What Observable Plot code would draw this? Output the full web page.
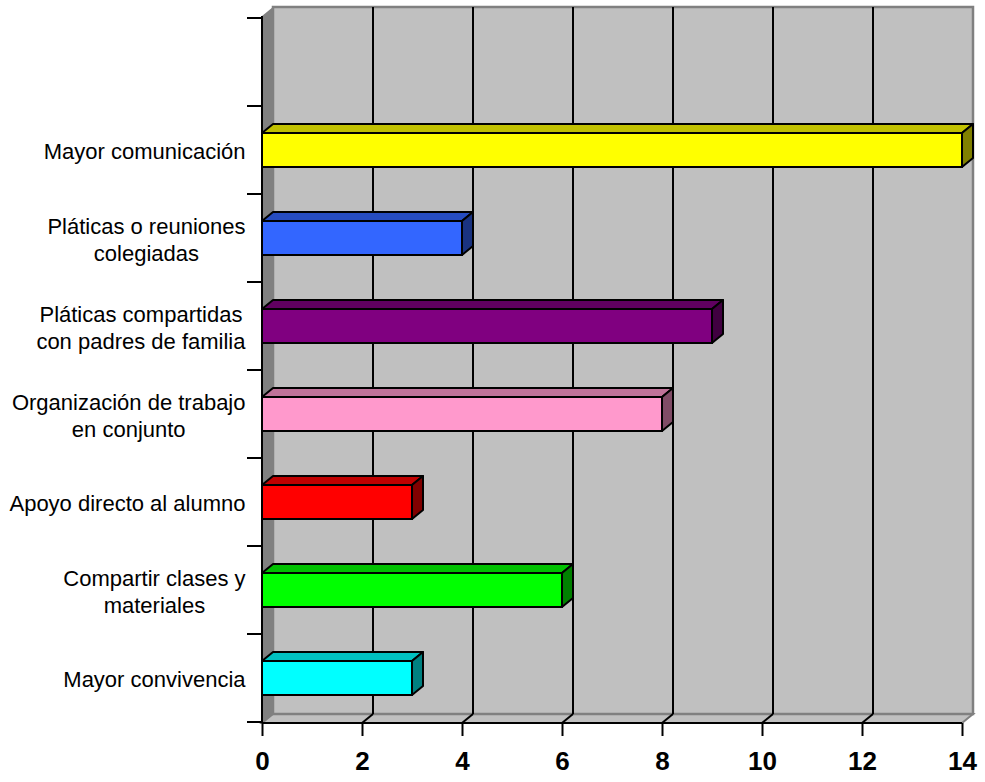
<!DOCTYPE html>
<html>
<head>
<meta charset="utf-8">
<script src="https://cdn.jsdelivr.net/npm/d3@7"></script>
<script src="https://cdn.jsdelivr.net/npm/@observablehq/plot@0.6"></script>
<style>
  body { margin: 0; background: #fff; }
  svg { display: block; }
  g[aria-label="x-axis tick label"] text { font-weight: bold; }
</style>
</head>
<body>
<div id="chart"></div>
<script>
// ---- data ----
const emptySlot = "";
const barCategories = [
  "Mayor comunicación",
  "Pláticas o reuniones\ncolegiadas",
  "Pláticas compartidas\ncon padres de familia",
  "Organización de trabajo\nen conjunto",
  "Apoyo directo al alumno",
  "Compartir clases y\nmateriales",
  "Mayor convivencia"
];
const barValues = [14, 4, 9, 8, 3, 6, 3];
const frontColors = ["#ffff00", "#3366ff", "#800080", "#ff99cc", "#ff0000", "#00ff00", "#00ffff"];
const topColors   = ["#c0c000", "#264cc0", "#600060", "#c07399", "#c00000", "#00c000", "#00c0c0"];
const sideColors  = ["#808000", "#1a3380", "#400040", "#804c66", "#800000", "#008000", "#008080"];
const xTicks = [0, 2, 4, 6, 8, 10, 12, 14];
const xDomain = [0, 14];
const yDomain = [emptySlot, ...barCategories];

const data = barCategories.map((cat, i) => ({
  cat, value: barValues[i], front: frontColors[i], top: topColors[i], side: sideColors[i]
}));

// ---- 3D styling (pixels) ----
const DX = 11, DY = 9, INSET = 27;

function pts(a) { return a.map(p => p.join(",")).join(" "); }

function backdrop(index, scales) {
  const x = scales.x, y = scales.y;
  const [yt, yb] = y.range();
  const xl = x(xDomain[0]), xr = x(xDomain[1]);
  const g = d3.create("svg:g");
  g.append("polygon").attr("points", pts([[xl, yt], [xl + DX, yt - DY], [xl + DX, yb - DY], [xl, yb]]))
    .attr("fill", "#808080");
  g.append("polygon").attr("points", pts([[xl, yb], [xl + DX, yb - DY], [xr + DX, yb - DY], [xr, yb]]))
    .attr("fill", "#c0c0c0").attr("stroke", "#808080").attr("stroke-width", 2);
  g.append("rect").attr("x", xl + DX).attr("y", yt - DY).attr("width", xr - xl).attr("height", yb - yt)
    .attr("fill", "#c0c0c0").attr("stroke", "#808080").attr("stroke-width", 2.5);
  for (const t of xTicks) {
    if (t === xDomain[0] || t === xDomain[1]) continue;
    const xv = x(t);
    g.append("line").attr("x1", xv + DX).attr("x2", xv + DX).attr("y1", yt - DY).attr("y2", yb - DY)
      .attr("stroke", "black").attr("stroke-width", 2);
    g.append("line").attr("x1", xv).attr("x2", xv + DX).attr("y1", yb).attr("y2", yb - DY)
      .attr("stroke", "black").attr("stroke-width", 2);
  }
  return g.node();
}

function bars3d(index, scales) {
  const x = scales.x, y = scales.y, bw = y.bandwidth();
  const g = d3.create("svg:g");
  for (const d of data) {
    const y0 = y(d.cat) + INSET, y1 = y(d.cat) + bw - INSET;
    const x0 = x(0), x1 = x(d.value);
    g.append("polygon").attr("points", pts([[x0, y0], [x0 + DX, y0 - DY], [x1 + DX, y0 - DY], [x1, y0]]))
      .attr("fill", d.top).attr("stroke", "black").attr("stroke-width", 2).attr("stroke-linejoin", "round");
    g.append("polygon").attr("points", pts([[x1, y0], [x1 + DX, y0 - DY], [x1 + DX, y1 - DY], [x1, y1]]))
      .attr("fill", d.side).attr("stroke", "black").attr("stroke-width", 2).attr("stroke-linejoin", "round");
  }
  return g.node();
}

function axesLines(index, scales) {
  const x = scales.x, y = scales.y, bw = y.bandwidth();
  const [yt, yb] = y.range();
  const xl = x(xDomain[0]), xr = x(xDomain[1]);
  const g = d3.create("svg:g").attr("stroke", "black").attr("stroke-width", 2);
  g.append("line").attr("x1", xl).attr("x2", xl).attr("y1", yt).attr("y2", yb);
  g.append("line").attr("x1", xl).attr("x2", xr).attr("y1", yb).attr("y2", yb);
  const bounds = yDomain.map(c => y(c)).concat([y(yDomain[yDomain.length - 1]) + bw]);
  for (const b of bounds) {
    g.append("line").attr("x1", xl - 15).attr("x2", xl).attr("y1", b).attr("y2", b);
  }
  return g.node();
}

const chart = Plot.plot({
  width: 985,
  height: 782,
  marginLeft: 262,
  marginRight: 23,
  marginTop: 16,
  marginBottom: 59,
  style: { fontFamily: "'Liberation Sans', Arial, sans-serif", background: "white", color: "black" },
  x: { domain: xDomain, axis: null },
  y: { domain: yDomain, padding: 0, axis: null },
  color: { type: "identity" },
  marks: [
    backdrop,
    Plot.barX(data, {
      x: "value", y: "cat", fill: "front",
      stroke: "black", strokeWidth: 2, insetTop: INSET, insetBottom: INSET
    }),
    bars3d,
    axesLines,
    Plot.axisX({
      ticks: xTicks, tickSize: 13, tickPadding: 15, fontSize: 26, fontWeight: "bold",
      strokeWidth: 2, tickFormat: d => String(d), label: null
    }),
    Plot.axisY({
      tickSize: 0, tickPadding: 17, fontSize: 22, lineHeight: 1.22, tickFormat: d => d, label: null
    })
  ]
});

document.getElementById("chart").appendChild(chart);

// center multi-line category labels within their block (block right-aligned)
chart.querySelectorAll('g[aria-label="y-axis tick label"] text').forEach(text => {
  const tspans = text.querySelectorAll("tspan");
  if (tspans.length < 2) return;
  let w = 0;
  tspans.forEach(t => { w = Math.max(w, t.getComputedTextLength()); });
  text.setAttribute("text-anchor", "middle");
  text.setAttribute("transform", (text.getAttribute("transform") || "") + ` translate(${-w / 2},0)`);
});
</script>
</body>
</html>
